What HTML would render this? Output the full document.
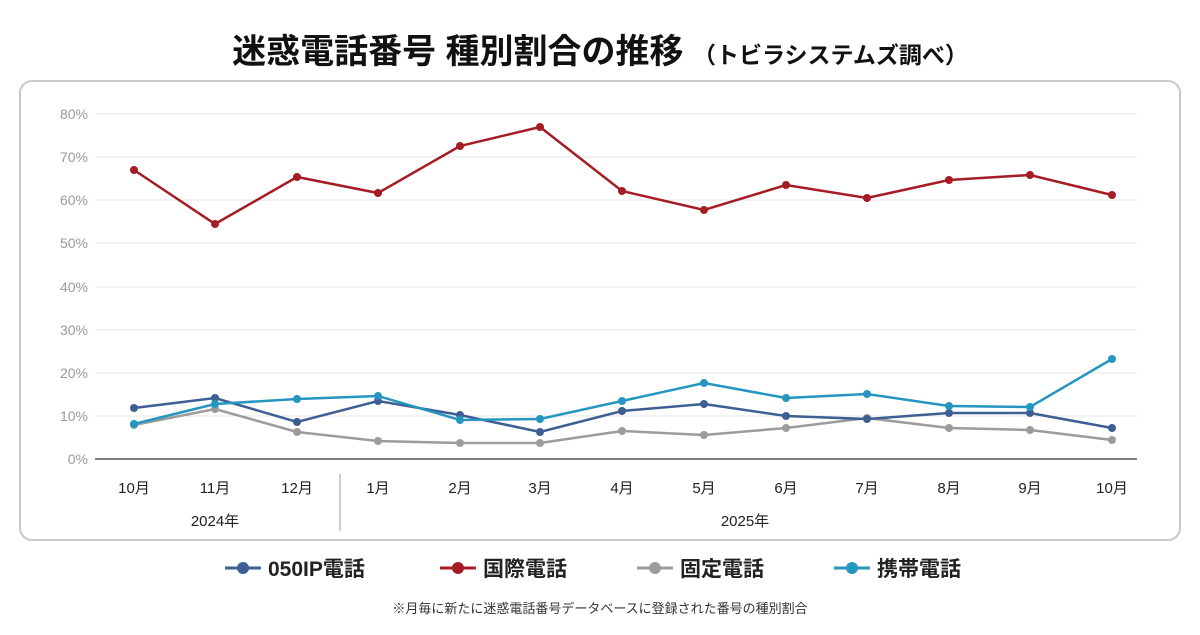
<!DOCTYPE html>
<html><head><meta charset="utf-8"><style>
body{margin:0;background:#fff;}
svg text{font-family:"Liberation Sans","Noto Sans CJK JP",sans-serif;}
</style></head><body>
<svg width="1200" height="630" viewBox="0 0 1200 630" xmlns="http://www.w3.org/2000/svg">
<rect width="1200" height="630" fill="#fff"/>
<text x="600" y="63" text-anchor="middle" font-size="34" font-weight="bold" fill="#111">迷惑電話番号 種別割合の推移 <tspan font-size="23">（トビラシステムズ調べ）</tspan></text>
<rect x="20" y="81" width="1160" height="459" rx="12" fill="#fff" stroke="#c8c8c8" stroke-width="2"/>
<g stroke="#e6e6e6" stroke-width="1">
<line x1="95" x2="1137" y1="114" y2="114"/><line x1="95" x2="1137" y1="157" y2="157"/>
<line x1="95" x2="1137" y1="200" y2="200"/><line x1="95" x2="1137" y1="243" y2="243"/>
<line x1="95" x2="1137" y1="287" y2="287"/><line x1="95" x2="1137" y1="330" y2="330"/>
<line x1="95" x2="1137" y1="373" y2="373"/><line x1="95" x2="1137" y1="416" y2="416"/>
</g>
<line x1="95" x2="1137" y1="459" y2="459" stroke="#555" stroke-width="1.5"/>
<g font-size="14" fill="#999" text-anchor="end">
<text x="88" y="119">80%</text><text x="88" y="162">70%</text><text x="88" y="205">60%</text>
<text x="88" y="248">50%</text><text x="88" y="292">40%</text><text x="88" y="335">30%</text>
<text x="88" y="378">20%</text><text x="88" y="421">10%</text><text x="88" y="464">0%</text>
</g>
<g font-size="15" fill="#222" text-anchor="middle">
<text x="134" y="493">10月</text><text x="215" y="493">11月</text><text x="297" y="493">12月</text>
<text x="378" y="493">1月</text><text x="460" y="493">2月</text><text x="540" y="493">3月</text>
<text x="622" y="493">4月</text><text x="704" y="493">5月</text><text x="786" y="493">6月</text>
<text x="867" y="493">7月</text><text x="949" y="493">8月</text><text x="1030" y="493">9月</text>
<text x="1112" y="493">10月</text>
<text x="215" y="526">2024年</text><text x="745" y="526">2025年</text>
</g>
<line x1="340" x2="340" y1="474" y2="531" stroke="#bbb" stroke-width="1.5"/>
<g fill="none" stroke-width="2.5">
<polyline stroke="#9c9c9c" points="134,425 215,409 297,432 378,441 460,443 540,443 622,431 704,435 786,428 867,418 949,428 1030,430 1112,440"/>
<polyline stroke="#3d5f94" points="134,408 215,398 297,422 378,401 460,415 540,432 622,411 704,404 786,416 867,419 949,413 1030,413 1112,428"/>
<polyline stroke="#2596c0" points="134,424 215,404 297,399 378,396 460,420 540,419 622,401 704,383 786,398 867,394 949,406 1030,407 1112,359"/>
<polyline stroke="#a51c24" points="134,170 215,224 297,177 378,193 460,146 540,127 622,191 704,210 786,185 867,198 949,180 1030,175 1112,195"/>
</g>
<g fill="#9c9c9c"><circle cx="134" cy="425" r="4"/><circle cx="215" cy="409" r="4"/><circle cx="297" cy="432" r="4"/><circle cx="378" cy="441" r="4"/><circle cx="460" cy="443" r="4"/><circle cx="540" cy="443" r="4"/><circle cx="622" cy="431" r="4"/><circle cx="704" cy="435" r="4"/><circle cx="786" cy="428" r="4"/><circle cx="867" cy="418" r="4"/><circle cx="949" cy="428" r="4"/><circle cx="1030" cy="430" r="4"/><circle cx="1112" cy="440" r="4"/></g>
<g fill="#3d5f94"><circle cx="134" cy="408" r="4"/><circle cx="215" cy="398" r="4"/><circle cx="297" cy="422" r="4"/><circle cx="378" cy="401" r="4"/><circle cx="460" cy="415" r="4"/><circle cx="540" cy="432" r="4"/><circle cx="622" cy="411" r="4"/><circle cx="704" cy="404" r="4"/><circle cx="786" cy="416" r="4"/><circle cx="867" cy="419" r="4"/><circle cx="949" cy="413" r="4"/><circle cx="1030" cy="413" r="4"/><circle cx="1112" cy="428" r="4"/></g>
<g fill="#2596c0"><circle cx="134" cy="424" r="4"/><circle cx="215" cy="404" r="4"/><circle cx="297" cy="399" r="4"/><circle cx="378" cy="396" r="4"/><circle cx="460" cy="420" r="4"/><circle cx="540" cy="419" r="4"/><circle cx="622" cy="401" r="4"/><circle cx="704" cy="383" r="4"/><circle cx="786" cy="398" r="4"/><circle cx="867" cy="394" r="4"/><circle cx="949" cy="406" r="4"/><circle cx="1030" cy="407" r="4"/><circle cx="1112" cy="359" r="4"/></g>
<g fill="#a51c24"><circle cx="134" cy="170" r="4"/><circle cx="215" cy="224" r="4"/><circle cx="297" cy="177" r="4"/><circle cx="378" cy="193" r="4"/><circle cx="460" cy="146" r="4"/><circle cx="540" cy="127" r="4"/><circle cx="622" cy="191" r="4"/><circle cx="704" cy="210" r="4"/><circle cx="786" cy="185" r="4"/><circle cx="867" cy="198" r="4"/><circle cx="949" cy="180" r="4"/><circle cx="1030" cy="175" r="4"/><circle cx="1112" cy="195" r="4"/></g>
<g stroke-width="3">
<line x1="225" x2="261" y1="568" y2="568" stroke="#3d5f94"/><circle cx="243" cy="568" r="6" fill="#3d5f94"/>
<line x1="440" x2="476" y1="568" y2="568" stroke="#a51c24"/><circle cx="458" cy="568" r="6" fill="#a51c24"/>
<line x1="637" x2="673" y1="568" y2="568" stroke="#9c9c9c"/><circle cx="655" cy="568" r="6" fill="#9c9c9c"/>
<line x1="834" x2="870" y1="568" y2="568" stroke="#2596c0"/><circle cx="852" cy="568" r="6" fill="#2596c0"/>
</g>
<g font-size="21" font-weight="bold" fill="#222">
<text x="268" y="576">050IP電話</text><text x="483" y="576">国際電話</text>
<text x="680" y="576">固定電話</text><text x="877" y="576">携帯電話</text>
</g>
<text x="600" y="613" text-anchor="middle" font-size="13" fill="#333">※月毎に新たに迷惑電話番号データベースに登録された番号の種別割合</text>
</svg>
</body></html>
